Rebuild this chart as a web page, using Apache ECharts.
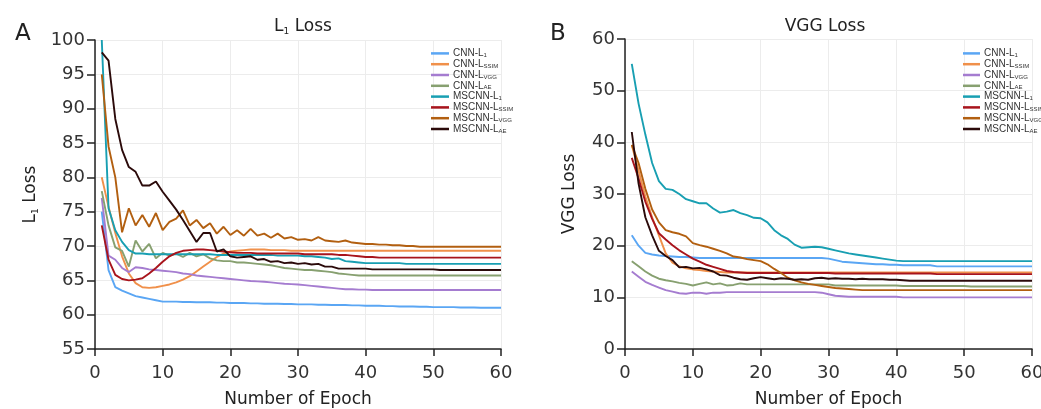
<!DOCTYPE html>
<html>
<head>
<meta charset="utf-8">
<script src="https://cdn.jsdelivr.net/npm/echarts@6/dist/echarts.min.js"></script>
<style>
  html, body { margin: 0; padding: 0; background: #fff; }
  #chart { width: 1041px; height: 409px; }
</style>
</head>
<body>
<div id="chart"></div>
<script>
// series names (legend order)
const names = ['CNN-L1', 'CNN-LSSIM', 'CNN-LVGG', 'CNN-LAE', 'MSCNN-L1', 'MSCNN-LSSIM', 'MSCNN-LVGG', 'MSCNN-LAE']
const colors = ['#5aa6f4', '#f0904a', '#a57cd0', '#87a070', '#189fb2', '#a8141c', '#b25f10', '#2b0a0a']

// A: L1 loss, one value per epoch (1..60)
const aCnnL1 = [75, 66.5, 64, 63.5, 63.1, 62.7, 62.5, 62.3, 62.1, 61.9,
  61.9, 61.9, 61.85, 61.85, 61.8, 61.8, 61.8, 61.75, 61.75, 61.7,
  61.7, 61.7, 61.65, 61.65, 61.6, 61.6, 61.6, 61.55, 61.55, 61.5,
  61.5, 61.5, 61.45, 61.45, 61.4, 61.4, 61.4, 61.35, 61.35, 61.3,
  61.3, 61.3, 61.25, 61.25, 61.2, 61.2, 61.2, 61.15, 61.15, 61.1,
  61.1, 61.1, 61.1, 61.05, 61.05, 61.05, 61.0, 61.0, 61.0, 61.0]
const aCnnSSIM = [80, 75.7, 71.9, 68.5, 66, 64.6, 64, 63.9, 64, 64.2,
  64.4, 64.7, 65.1, 65.6, 66.3, 67, 67.7, 68.4, 68.9, 69.2,
  69.3, 69.4, 69.5, 69.5, 69.5, 69.4, 69.4, 69.4, 69.3, 69.3,
  69.3, 69.3, 69.3, 69.3, 69.3, 69.3, 69.3, 69.3, 69.3, 69.3,
  69.3, 69.3, 69.3, 69.3, 69.3, 69.3, 69.3, 69.3, 69.3, 69.3,
  69.3, 69.3, 69.3, 69.3, 69.3, 69.3, 69.3, 69.3, 69.3, 69.3]
const aCnnVGG = [77, 68.6, 68, 66.8, 66.2, 66.9, 66.8, 66.6, 66.5, 66.4,
  66.3, 66.2, 66.0, 65.9, 65.7, 65.6, 65.5, 65.4, 65.3, 65.2,
  65.1, 65.0, 64.9, 64.85, 64.8, 64.7, 64.6, 64.5, 64.45, 64.4,
  64.3, 64.2, 64.1, 64.0, 63.9, 63.8, 63.7, 63.7, 63.65, 63.65,
  63.6, 63.6, 63.6, 63.6, 63.6, 63.6, 63.6, 63.6, 63.6, 63.6,
  63.6, 63.6, 63.6, 63.6, 63.6, 63.6, 63.6, 63.6, 63.6, 63.6]
const aCnnAE = [78, 73, 69.8, 69.3, 67, 70.8, 69.2, 70.3, 68.2, 69,
  68.6, 68.9, 68.4, 69, 68.5, 68.8, 68.2, 67.9, 67.8, 67.8,
  67.6, 67.6, 67.5, 67.4, 67.3, 67.2, 67.0, 66.8, 66.7, 66.6,
  66.5, 66.5, 66.4, 66.3, 66.2, 66.0, 65.9, 65.8, 65.7, 65.7,
  65.7, 65.7, 65.7, 65.7, 65.7, 65.7, 65.7, 65.7, 65.7, 65.7,
  65.7, 65.7, 65.7, 65.7, 65.7, 65.7, 65.7, 65.7, 65.7, 65.7]
const aMsL1 = [100, 75.5, 72.3, 70.6, 69.4, 68.9, 68.9, 68.8, 68.8, 68.8,
  68.8, 68.8, 68.8, 68.8, 68.8, 68.8, 68.8, 68.7, 68.7, 68.7,
  68.7, 68.7, 68.7, 68.7, 68.7, 68.7, 68.6, 68.6, 68.6, 68.6,
  68.5, 68.5, 68.4, 68.3, 68.1, 68.2, 67.8, 67.7, 67.6, 67.5,
  67.5, 67.5, 67.5, 67.5, 67.5, 67.4, 67.4, 67.4, 67.4, 67.4,
  67.4, 67.4, 67.4, 67.4, 67.4, 67.4, 67.4, 67.4, 67.4, 67.4]
const aMsSSIM = [73, 68, 65.8, 65.2, 65, 65.1, 65.3, 66, 66.8, 67.7,
  68.5, 69, 69.3, 69.4, 69.5, 69.5, 69.4, 69.3, 69.2, 69.1,
  69, 69, 69, 68.9, 68.9, 68.9, 68.9, 68.9, 68.9, 68.9,
  68.8, 68.8, 68.8, 68.8, 68.8, 68.7, 68.7, 68.6, 68.5, 68.4,
  68.4, 68.3, 68.3, 68.3, 68.3, 68.3, 68.3, 68.3, 68.3, 68.3,
  68.3, 68.3, 68.3, 68.3, 68.3, 68.3, 68.3, 68.3, 68.3, 68.3]
const aMsVGG = [95, 84.5, 80, 72, 75.5, 73, 74.5, 72.8, 74.8, 72.3,
  73.5, 74, 75.2, 73, 73.8, 72.6, 73.3, 71.8, 72.8, 71.6,
  72.3, 71.5, 72.5, 71.5, 71.8, 71.2, 71.8, 71.1, 71.3, 70.9,
  71.0, 70.8, 71.3, 70.8, 70.7, 70.6, 70.8, 70.5, 70.4, 70.3,
  70.3, 70.2, 70.2, 70.1, 70.1, 70.0, 70.0, 69.9, 69.9, 69.9,
  69.9, 69.9, 69.9, 69.9, 69.9, 69.9, 69.9, 69.9, 69.9, 69.9]
const aMsAE = [98.2, 97, 88.5, 84, 81.5, 80.8, 78.8, 78.8, 79.4, 77.9,
  76.6, 75.3, 73.8, 72.2, 70.6, 71.9, 71.9, 69.2, 69.5, 68.5,
  68.3, 68.4, 68.5, 68.0, 68.1, 67.7, 67.8, 67.5, 67.6, 67.4,
  67.5, 67.3, 67.4, 67.0, 67.0, 66.7, 66.7, 66.7, 66.7, 66.7,
  66.6, 66.6, 66.6, 66.6, 66.6, 66.6, 66.6, 66.6, 66.6, 66.6,
  66.5, 66.5, 66.5, 66.5, 66.5, 66.5, 66.5, 66.5, 66.5, 66.5]

// B: VGG loss, one value per epoch (1..60)
const bCnnL1 = [22, 20, 18.6, 18.3, 18.1, 18, 17.9, 17.8, 17.8, 17.7,
  17.6, 17.6, 17.6, 17.6, 17.6, 17.6, 17.6, 17.6, 17.6, 17.6,
  17.6, 17.6, 17.6, 17.6, 17.6, 17.6, 17.6, 17.6, 17.6, 17.5,
  17.2, 16.9, 16.8, 16.7, 16.6, 16.5, 16.4, 16.4, 16.3, 16.3,
  16.2, 16.2, 16.2, 16.2, 16.2, 16.0, 16.0, 16.0, 16.0, 16.0,
  16.0, 16.0, 16.0, 16.0, 16.0, 16.0, 16.0, 16.0, 16.0, 16.0]
const bCnnSSIM = [39.5, 34.5, 29.5, 25.5, 22, 18.5, 16.7, 16.0, 15.6, 15.4,
  15.3, 15.1, 15.0, 14.9, 14.8, 14.8, 14.8, 14.8, 14.8, 14.8,
  14.8, 14.8, 14.8, 14.8, 14.8, 14.8, 14.8, 14.8, 14.8, 14.8,
  14.8, 14.8, 14.8, 14.8, 14.8, 14.8, 14.8, 14.8, 14.8, 14.8,
  14.8, 14.8, 14.8, 14.8, 14.8, 14.8, 14.8, 14.8, 14.8, 14.8,
  14.8, 14.8, 14.8, 14.8, 14.8, 14.8, 14.8, 14.8, 14.8, 14.8]
const bCnnVGG = [15, 14, 13, 12.4, 11.9, 11.4, 11.1, 10.8, 10.7, 10.9,
  10.9, 10.7, 10.9, 10.9, 11, 11, 11, 11, 11, 11,
  11, 11, 11, 11, 11, 11, 11, 11, 10.9, 10.6,
  10.3, 10.2, 10.1, 10.1, 10.1, 10.1, 10.1, 10.1, 10.1, 10.1,
  10.0, 10.0, 10.0, 10.0, 10.0, 10.0, 10.0, 10.0, 10.0, 10.0,
  10.0, 10.0, 10.0, 10.0, 10.0, 10.0, 10.0, 10.0, 10.0, 10.0]
const bCnnAE = [17, 16, 15, 14.2, 13.6, 13.3, 13.1, 12.8, 12.6, 12.3,
  12.6, 12.9, 12.5, 12.7, 12.3, 12.4, 12.7, 12.5, 12.5, 12.5,
  12.5, 12.5, 12.5, 12.5, 12.5, 12.5, 12.5, 12.5, 12.5, 12.5,
  12.3, 12.3, 12.3, 12.3, 12.3, 12.3, 12.3, 12.3, 12.3, 12.3,
  12.2, 12.2, 12.2, 12.2, 12.2, 12.2, 12.2, 12.2, 12.2, 12.2,
  12.1, 12.1, 12.1, 12.1, 12.1, 12.1, 12.1, 12.1, 12.1, 12.1]
const bMsL1 = [55.2, 47.5, 41.5, 36, 32.5, 31, 30.8, 30, 29, 28.6,
  28.2, 28.2, 27.2, 26.4, 26.6, 26.9, 26.3, 25.9, 25.4, 25.3,
  24.5, 23, 22, 21.3, 20.2, 19.6, 19.7, 19.8, 19.7, 19.4,
  19.1, 18.8, 18.5, 18.3, 18.1, 17.9, 17.7, 17.5, 17.3, 17.1,
  17.0, 17.0, 17.0, 17.0, 17.0, 17.0, 17.0, 17.0, 17.0, 17.0,
  17.0, 17.0, 17.0, 17.0, 17.0, 17.0, 17.0, 17.0, 17.0, 17.0]
const bMsSSIM = [37, 33, 28.5, 25.2, 22.4, 21.2, 20.1, 19.1, 18.3, 17.5,
  16.9, 16.3, 15.9, 15.5, 15.1, 14.9, 14.8, 14.7, 14.7, 14.7,
  14.7, 14.7, 14.7, 14.7, 14.7, 14.7, 14.7, 14.7, 14.7, 14.7,
  14.6, 14.6, 14.6, 14.6, 14.6, 14.6, 14.6, 14.6, 14.6, 14.6,
  14.6, 14.6, 14.6, 14.6, 14.6, 14.5, 14.5, 14.5, 14.5, 14.5,
  14.5, 14.5, 14.5, 14.5, 14.5, 14.5, 14.5, 14.5, 14.5, 14.5]
const bMsVGG = [39.5, 36, 31, 27, 24.5, 23, 22.6, 22.3, 21.8, 20.5,
  20.1, 19.8, 19.4, 19, 18.5, 17.9, 17.7, 17.4, 17.2, 17,
  16.4, 15.5, 14.7, 13.8, 13.3, 12.9, 12.6, 12.4, 12.2, 12,
  11.8, 11.7, 11.6, 11.5, 11.4, 11.4, 11.4, 11.4, 11.4, 11.4,
  11.4, 11.4, 11.4, 11.4, 11.4, 11.4, 11.4, 11.4, 11.4, 11.4,
  11.4, 11.4, 11.4, 11.4, 11.4, 11.4, 11.4, 11.4, 11.4, 11.4]
const bMsAE = [42, 32, 25.5, 22, 19, 18, 17.2, 15.8, 15.9, 15.6,
  15.7, 15.4, 15, 14.3, 14.2, 13.8, 13.5, 13.4, 13.7, 13.9,
  13.7, 13.5, 13.7, 13.6, 13.4, 13.5, 13.4, 13.7, 13.8, 13.6,
  13.7, 13.6, 13.6, 13.5, 13.6, 13.5, 13.5, 13.5, 13.4, 13.4,
  13.3, 13.2, 13.2, 13.2, 13.2, 13.2, 13.2, 13.2, 13.2, 13.2,
  13.2, 13.2, 13.2, 13.2, 13.2, 13.2, 13.2, 13.2, 13.2, 13.2]

const seriesA = [aCnnL1, aCnnSSIM, aCnnVGG, aCnnAE, aMsL1, aMsSSIM, aMsVGG, aMsAE]
const seriesB = [bCnnL1, bCnnSSIM, bCnnVGG, bCnnAE, bMsL1, bMsSSIM, bMsVGG, bMsAE]

const xTicks = { min: 0, max: 60, interval: 10 }
const yTicksA = { min: 55, max: 100, interval: 5 }
const yTicksB = { min: 0, max: 60, interval: 10 }

const FONT = 'DejaVu Sans'
const LEG_FONT = 'Liberation Sans'
const AX = '#222'

const subRich = {
  n: { fontFamily: FONT, fontSize: 17, fontWeight: 'normal', color: '#222' },
  s: { fontFamily: FONT, fontSize: 9, fontWeight: 'normal', color: '#222', padding: [9, 0, 0, 0] }
}

const legendRich = {
  n: { fontFamily: LEG_FONT, fontSize: 10, color: '#333', lineHeight: 10.8 },
  s: { fontFamily: LEG_FONT, fontSize: 6, color: '#333', padding: [4, 0, 0, 0], lineHeight: 10.8 }
}

function legendFmt(name) {
  const i = name.indexOf('-L')
  return '{n|' + name.slice(0, i + 2) + '}{s|' + name.slice(i + 2) + '}'
}

function xAxis(idx) {
  return {
    type: 'value', gridIndex: idx, min: xTicks.min, max: xTicks.max, interval: xTicks.interval,
    name: 'Number of Epoch', nameLocation: 'middle', nameGap: 42,
    nameTextStyle: { fontFamily: FONT, fontSize: 17, color: '#222' },
    axisLine: { lineStyle: { color: AX, width: 1.5 } },
    axisTick: { length: 7, lineStyle: { color: AX, width: 1.5 } },
    axisLabel: { fontFamily: FONT, fontSize: 18, color: '#333', margin: 15 },
    splitLine: { show: true, lineStyle: { color: '#ececec', width: 1 } }
  }
}

function yAxis(idx, t, name, gap) {
  return {
    type: 'value', gridIndex: idx, min: t.min, max: t.max, interval: t.interval,
    name: name, nameLocation: 'middle', nameGap: gap, nameRotate: 90,
    nameTextStyle: { fontFamily: FONT, fontSize: 17, color: '#222', rich: subRich },
    axisLine: { show: true, lineStyle: { color: AX, width: 1.5 } },
    axisTick: { show: true, length: 8, lineStyle: { color: AX, width: 1.5 } },
    axisLabel: { fontFamily: FONT, fontSize: 18, color: '#333', margin: 10 },
    splitLine: { show: true, lineStyle: { color: '#ececec', width: 1 } }
  }
}

function legend(left, w) {
  return {
    data: names, orient: 'vertical', left: left, top: 43,
    icon: 'rect', itemWidth: w, itemHeight: 2.5, itemGap: 0,
    selectedMode: false,
    formatter: legendFmt,
    textStyle: { fontFamily: LEG_FONT, fontSize: 10, color: '#333', lineHeight: 10.8, padding: [0, 0, 0, -1], rich: legendRich }
  }
}

const series = []
;[seriesA, seriesB].forEach((set, g) => {
  set.forEach((vals, k) => {
    series.push({
      name: names[k], type: 'line', xAxisIndex: g, yAxisIndex: g,
      showSymbol: false, symbol: 'none',
      lineStyle: { width: 1.9, color: colors[k] }, itemStyle: { color: colors[k] },
      data: vals.map((v, i) => [i + 1, v]),
      silent: true, animation: false
    })
  })
})

const chart = echarts.init(document.getElementById('chart'), null, { renderer: 'canvas' })
chart.setOption({
  backgroundColor: '#fff',
  animation: false,
  title: [
    { text: '{n|L}{s|1}{n| Loss}', left: 298, top: 13, textAlign: 'center', textStyle: { fontWeight: 'normal', rich: subRich } },
    { text: 'VGG Loss', left: 820, top: 13, textAlign: 'center', textStyle: { fontFamily: FONT, fontSize: 17, fontWeight: 'normal', color: '#222' } },
    { text: 'A', left: 10, top: 18, textStyle: { fontFamily: FONT, fontSize: 23, fontWeight: 'normal', color: '#222' } },
    { text: 'B', left: 545, top: 18, textStyle: { fontFamily: FONT, fontSize: 23, fontWeight: 'normal', color: '#222' } }
  ],
  legend: [legend(426, 18), legend(958, 17)],
  grid: [
    { left: 95, top: 40, width: 406, height: 309, containLabel: false, outerBoundsMode: 'none' },
    { left: 625, top: 39, width: 407, height: 310, containLabel: false, outerBoundsMode: 'none' }
  ],
  xAxis: [xAxis(0), xAxis(1)],
  yAxis: [yAxis(0, yTicksA, '{n|L}{s|1}{n| Loss}', 55), yAxis(1, yTicksB, 'VGG Loss', 47)],
  series: series
})
</script>
</body>
</html>
